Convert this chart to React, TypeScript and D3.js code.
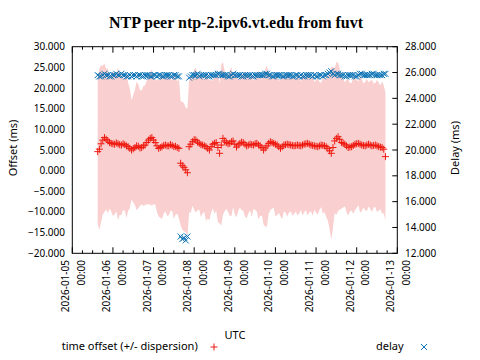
import React from "react";
import * as d3 from "d3";

// sample times: hours since 2026-01-05 00:00 UTC
const HOURS = [
  15, 16, 17, 18, 19, 20, 21, 22, 23, 24,
  25, 26, 27, 28, 29, 30, 31, 32, 33, 34,
  35, 36, 37, 38, 39, 40, 41, 42, 43, 44,
  45, 46, 47, 48, 49, 50, 51, 52, 53, 54,
  55, 56, 57, 58, 59, 60, 61, 62, 63, 64,
  65, 66, 67, 68, 69, 70, 71, 72, 73, 74,
  75, 76, 77, 78, 79, 80, 81, 82, 83, 84,
  85, 86, 87, 88, 89, 90, 91, 92, 93, 94,
  95, 96, 97, 98, 99, 100, 101, 102, 103, 104,
  105, 106, 107, 108, 109, 110, 111, 112, 113, 114,
  115, 116, 117, 118, 119, 120, 121, 122, 123, 124,
  125, 126, 127, 128, 129, 130, 131, 132, 133, 134,
  135, 136, 137, 138, 139, 140, 141, 142, 143, 144,
  145, 146, 147, 148, 149, 150, 151, 152, 153, 154,
  155, 156, 157, 158, 159, 160, 161, 162, 163, 164,
  165, 166, 167, 168, 169, 170, 171, 172, 173, 174,
  175, 176, 177, 178, 179, 180, 181, 182, 183, 184,
  185,
];

// time offset (ms)
const OFFSET = [
  4.6, 5.2, 6.5, 7.4, 8.0, 7.6, 7.2, 6.8, 6.6, 6.5,
  6.4, 6.7, 6.5, 6.3, 6.2, 6.5, 6.3, 6.0, 5.8, 5.4,
  5.0, 5.3, 5.6, 6.0, 5.9, 5.5, 5.6, 6.0, 6.2, 6.8,
  7.4, 7.8, 8.0, 7.4, 6.8, 6.0, 5.4, 5.6, 5.8, 6.1,
  6.2, 6.0, 6.0, 6.3, 6.1, 5.8, 5.9, 5.6, 5.4, 1.8,
  1.2, 0.8, 0.2, -0.5, 5.8, 6.4, 7.0, 7.5, 7.4, 6.9,
  6.6, 6.3, 6.2, 6.0, 5.8, 5.4, 5.0, 5.8, 6.4, 6.6,
  6.8, 5.6, 4.2, 6.2, 7.8, 7.2, 6.8, 6.5, 6.6, 7.0,
  7.2, 6.4, 5.7, 6.2, 6.6, 6.9, 6.8, 6.4, 6.0, 6.2,
  6.4, 6.3, 6.2, 6.5, 6.6, 6.2, 6.0, 5.6, 5.0, 5.5,
  6.0, 6.6, 7.0, 6.8, 6.6, 6.4, 6.2, 5.8, 5.4, 5.8,
  6.2, 6.3, 6.4, 6.3, 6.2, 6.1, 6.0, 6.1, 6.2, 6.1,
  6.0, 6.2, 6.4, 6.5, 6.6, 6.4, 6.2, 6.1, 6.0, 5.9,
  5.8, 6.0, 6.2, 6.1, 6.0, 5.8, 5.4, 4.8, 4.2, 5.6,
  7.2, 7.8, 8.2, 7.6, 6.8, 6.6, 6.4, 6.0, 5.6, 5.7,
  5.8, 6.1, 6.4, 6.5, 6.6, 6.4, 6.2, 6.1, 6.0, 6.2,
  6.4, 6.2, 6.0, 6.1, 6.2, 6.0, 5.8, 5.7, 5.6, 5.2,
  3.4,
];

// dispersion (ms)
const DISPERSION = [
  17.5, 19.5, 19.0, 18.0, 18.0, 17.0, 17.5, 16.0, 16.5, 17.5,
  17.0, 16.5, 18.5, 17.0, 17.0, 16.0, 16.0, 17.5, 15.5, 14.5,
  12.0, 13.0, 14.0, 15.5, 15.0, 14.0, 13.8, 14.5, 14.5, 15.0,
  15.5, 16.0, 16.5, 15.5, 15.0, 16.0, 16.5, 17.0, 17.5, 16.5,
  16.0, 17.0, 16.8, 16.0, 15.8, 17.5, 16.5, 16.0, 17.0, 15.0,
  15.5, 15.5, 15.0, 15.5, 16.0, 16.5, 15.5, 17.0, 17.5, 16.5,
  16.0, 17.5, 16.5, 16.0, 18.0, 17.0, 17.0, 16.0, 15.5, 17.0,
  16.5, 18.0, 17.0, 19.5, 18.5, 17.0, 16.0, 16.5, 17.5, 18.0,
  16.0, 17.0, 17.0, 16.0, 15.5, 16.5, 16.5, 17.5, 17.5, 16.5,
  16.0, 17.5, 15.5, 16.0, 16.5, 18.0, 17.0, 16.5, 18.0, 19.0,
  19.5, 17.0, 16.5, 16.0, 15.5, 17.5, 17.0, 16.0, 16.5, 17.5,
  16.0, 16.5, 17.5, 16.5, 16.0, 17.0, 16.5, 16.0, 17.0, 16.5,
  15.5, 17.0, 16.5, 16.0, 17.5, 16.5, 16.0, 17.0, 15.5, 16.0,
  16.5, 15.5, 15.0, 16.5, 16.0, 17.0, 17.5, 19.0, 21.0, 19.5,
  17.5, 18.5, 18.0, 17.0, 16.0, 15.5, 15.0, 16.0, 16.5, 15.5,
  15.5, 16.5, 16.0, 15.5, 15.0, 16.5, 16.0, 15.0, 15.5, 16.0,
  15.0, 15.5, 16.0, 15.0, 15.0, 16.0, 15.5, 15.0, 16.0, 15.5,
  15.5,
];

// delay (ms)
const DELAY = [
  25.8, 25.7, 25.7, 25.8, 25.9, 25.8, 25.8, 25.7, 25.7, 25.8,
  25.8, 25.9, 25.8, 25.8, 25.9, 25.8, 25.8, 25.7, 25.7, 25.8,
  25.7, 25.8, 25.8, 25.7, 25.8, 25.8, 25.7, 25.7, 25.8, 25.8,
  25.8, 25.7, 25.7, 25.8, 25.8, 25.7, 25.8, 25.8, 25.7, 25.7,
  25.8, 25.8, 25.8, 25.7, 25.7, 25.8, 25.8, 25.7, 25.7, 13.3,
  13.1, 13.2, 13.0, 13.3, 25.6, 25.7, 25.8, 25.8, 25.8, 25.9,
  25.7, 25.8, 25.8, 25.8, 25.8, 25.7, 25.7, 25.8, 25.8, 25.8,
  25.8, 25.9, 25.9, 25.8, 25.8, 25.8, 25.8, 25.7, 25.7, 25.8,
  25.9, 25.8, 25.8, 25.8, 25.8, 25.7, 25.7, 25.8, 25.8, 25.8,
  25.8, 25.7, 25.7, 25.8, 25.8, 25.8, 25.8, 25.8, 25.8, 25.9,
  25.9, 25.8, 25.8, 25.7, 25.7, 25.8, 25.8, 25.8, 25.8, 25.7,
  25.7, 25.8, 25.8, 25.8, 25.8, 25.7, 25.7, 25.8, 25.8, 25.7,
  25.8, 25.7, 25.7, 25.8, 25.8, 25.8, 25.8, 25.7, 25.8, 25.7,
  25.7, 25.8, 25.8, 25.7, 25.8, 25.8, 25.9, 26.0, 26.1, 25.9,
  25.8, 25.9, 25.9, 25.8, 25.8, 25.8, 25.7, 25.7, 25.8, 25.8,
  25.8, 25.8, 25.7, 25.7, 25.8, 25.9, 25.9, 25.8, 25.8, 25.8,
  25.8, 25.8, 25.9, 25.9, 25.8, 25.8, 25.8, 25.8, 25.8, 25.9,
  25.9,
];

const LEFT_TICKS = [-20, -15, -10, -5, 0, 5, 10, 15, 20, 25, 30];
const RIGHT_TICKS = [12, 14, 16, 18, 20, 22, 24, 26, 28];

const TITLE = "NTP peer ntp-2.ipv6.vt.edu from fuvt";
const FONT = "'Noto Sans', sans-serif";

const W = 480, H = 360;
const L = 72.3, R = 397.3, T = 46.7, B = 253.3;

const base = Date.UTC(2026, 0, 5);
const start = new Date(base);
const end = new Date(Date.UTC(2026, 0, 13));

export default function App() {
  const x = d3.scaleUtc().domain([start, end]).range([L, R]);
  const yL = d3.scaleLinear().domain([-20, 30]).range([B, T]);
  const yR = d3.scaleLinear().domain([12, 28]).range([B, T]);

  const data = HOURS.map((h, i) => ({
    t: new Date(base + h * 3600 * 1000),
    off: OFFSET[i],
    disp: DISPERSION[i],
    delay: DELAY[i],
  }));

  const area = d3
    .area<any>()
    .x((d) => x(d.t))
    .y0((d) => yL(d.off - d.disp))
    .y1((d) => yL(d.off + d.disp));

  const plus = (cx: number, cy: number, s = 3.5) =>
    `M${cx - s},${cy}H${cx + s}M${cx},${cy - s}V${cy + s}`;
  const cross = (cx: number, cy: number, s = 3) =>
    `M${cx - s},${cy - s}L${cx + s},${cy + s}M${cx - s},${cy + s}L${cx + s},${cy - s}`;

  const majors = x.ticks(d3.utcDay.every(1)!);
  const minors = x.ticks(d3.utcHour.every(6)!).filter((d) => d.getUTCHours() !== 0);
  const fDate = d3.utcFormat("%Y-%m-%d");
  const fTime = d3.utcFormat("%H:%M");
  const f3 = d3.format(".3f");

  const red = "#ee1a10";
  const blue = "#0a72b5";

  return (
    <svg
      width={W}
      height={H}
      style={{ position: "absolute", left: 0, top: 0, background: "#fff" }}
      fontFamily={FONT}
    >
      <rect x={0} y={0} width={W} height={H} fill="#fff" />
      <text
        x={236}
        y={28.3}
        textAnchor="middle"
        fontFamily="'Liberation Serif', serif"
        fontWeight="bold"
        fontSize={16}
      >
        {TITLE}
      </text>

      {/* band: offset +/- dispersion */}
      <path d={area(data) || ""} fill="#f9d0cf" stroke="none" />

      {/* offset points */}
      <path
        d={data.map((d) => plus(x(d.t), yL(d.off))).join("")}
        stroke={red}
        strokeWidth={1}
        fill="none"
      />
      {/* delay points */}
      <path
        d={data.map((d) => cross(x(d.t), yR(d.delay))).join("")}
        stroke={blue}
        strokeWidth={1}
        fill="none"
      />

      {/* border */}
      <rect x={L} y={T} width={R - L} height={B - T} fill="none" stroke="#000" strokeWidth={1} />

      {/* x ticks */}
      {majors.map((d, i) => (
        <g key={"M" + i}>
          <line x1={x(d)} x2={x(d)} y1={B} y2={B - 6} stroke="#000" />
          <line x1={x(d)} x2={x(d)} y1={T} y2={T + 6} stroke="#000" />
          <text
            transform={`translate(${x(d) - 3},260) rotate(-90)`}
            textAnchor="end"
            fontSize={10}
          >
            {fDate(d)}
          </text>
          <text
            transform={`translate(${x(d) + 12.7},260) rotate(-90)`}
            textAnchor="end"
            fontSize={10}
          >
            {fTime(d)}
          </text>
        </g>
      ))}
      {minors.map((d, i) => (
        <g key={"m" + i}>
          <line x1={x(d)} x2={x(d)} y1={B} y2={B - 3} stroke="#000" />
          <line x1={x(d)} x2={x(d)} y1={T} y2={T + 3} stroke="#000" />
        </g>
      ))}

      {/* left ticks */}
      {LEFT_TICKS.map((v) => (
        <text key={"l" + v} x={65} y={yL(v)} dy="0.35em" textAnchor="end" fontSize={10}>
          {f3(v)}
        </text>
      ))}
      {/* right ticks */}
      {RIGHT_TICKS.map((v) => (
        <g key={"r" + v}>
          <line x1={R} x2={R - 5} y1={yR(v)} y2={yR(v)} stroke="#000" />
          <text x={405} y={yR(v)} dy="0.35em" textAnchor="start" fontSize={10}>
            {f3(v)}
          </text>
        </g>
      ))}

      {/* axis labels */}
      <text transform="translate(16.5,148) rotate(-90)" textAnchor="middle" fontSize={11}>
        Offset (ms)
      </text>
      <text transform="translate(458.5,148) rotate(-90)" textAnchor="middle" fontSize={11}>
        Delay (ms)
      </text>
      <text x={235} y={339.3} textAnchor="middle" fontSize={11}>
        UTC
      </text>

      {/* legend */}
      <text x={61.7} y={350} fontSize={11}>
        time offset (+/- dispersion)
      </text>
      <path d={plus(214, 347)} stroke={red} strokeWidth={1} fill="none" />
      <text x={376} y={350} fontSize={11}>
        delay
      </text>
      <path d={cross(424, 347)} stroke={blue} strokeWidth={1} fill="none" />
    </svg>
  );
}
